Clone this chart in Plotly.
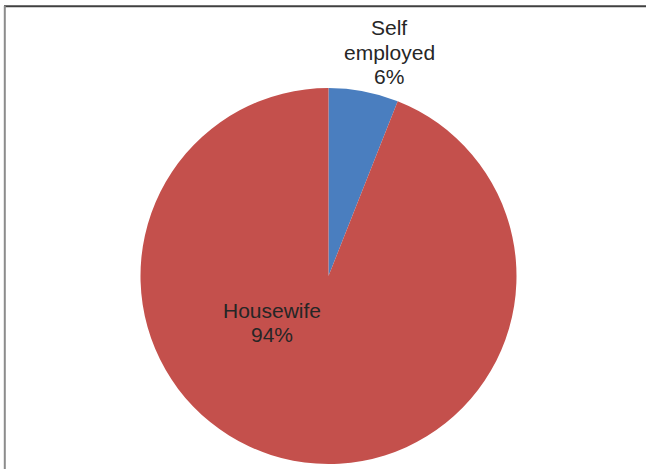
import plotly.graph_objects as go

categories = ["Self employed", "Housewife"]
values = [6, 94]
colors = ["#4A7EBF", "#C4504C"]

# label lines (text) per category
label_lines = {
    "Self employed": ["Self", "employed", "6%"],
    "Housewife": ["Housewife", "94%"],
}

W, H = 646, 469

fig = go.Figure()
fig.add_trace(go.Pie(
    labels=categories,
    values=values,
    sort=False,
    direction="clockwise",
    rotation=0,
    marker=dict(colors=colors, line=dict(width=0)),
    textinfo="none",
    hoverinfo="label+percent",
    showlegend=False,
    domain=dict(x=[140.5 / W, 516.5 / W], y=[1 - 464 / H, 1 - 88 / H]),
))

def px(x):
    return x / W

def py(y):
    return 1 - y / H

# label positions (pixel centers / baselines)
pos = {
    "Self employed": (389, [35, 59.5, 84]),
    "Housewife": (271.5, [317.7, 342.2]),
}
annotations = []
for cat in categories:
    cx, baselines = pos[cat]
    for line, b in zip(label_lines[cat], baselines):
        annotations.append(dict(
            x=px(cx), y=py(b - 7.5), xref="paper", yref="paper",
            text=line, showarrow=False, xanchor="center", yanchor="middle",
            font=dict(family="Liberation Sans, Arial", size=21, color="#262626"),
        ))

shapes = [
    dict(type="line", xref="paper", yref="paper", x0=px(4), x1=1, y0=py(6.3), y1=py(6.3),
         line=dict(color="#404040", width=2)),
    dict(type="line", xref="paper", yref="paper", x0=px(4.8), x1=px(4.8), y0=py(6), y1=0,
         line=dict(color="#8C8C8C", width=2)),
]

fig.update_layout(
    width=W, height=H,
    margin=dict(l=0, r=0, t=0, b=0),
    paper_bgcolor="white",
    plot_bgcolor="white",
    annotations=annotations,
    shapes=shapes,
)

fig.write_html(
    "out.html",
    config={"displayModeBar": False},
    post_script="document.body.style.margin='0';document.body.style.padding='0';",
)
